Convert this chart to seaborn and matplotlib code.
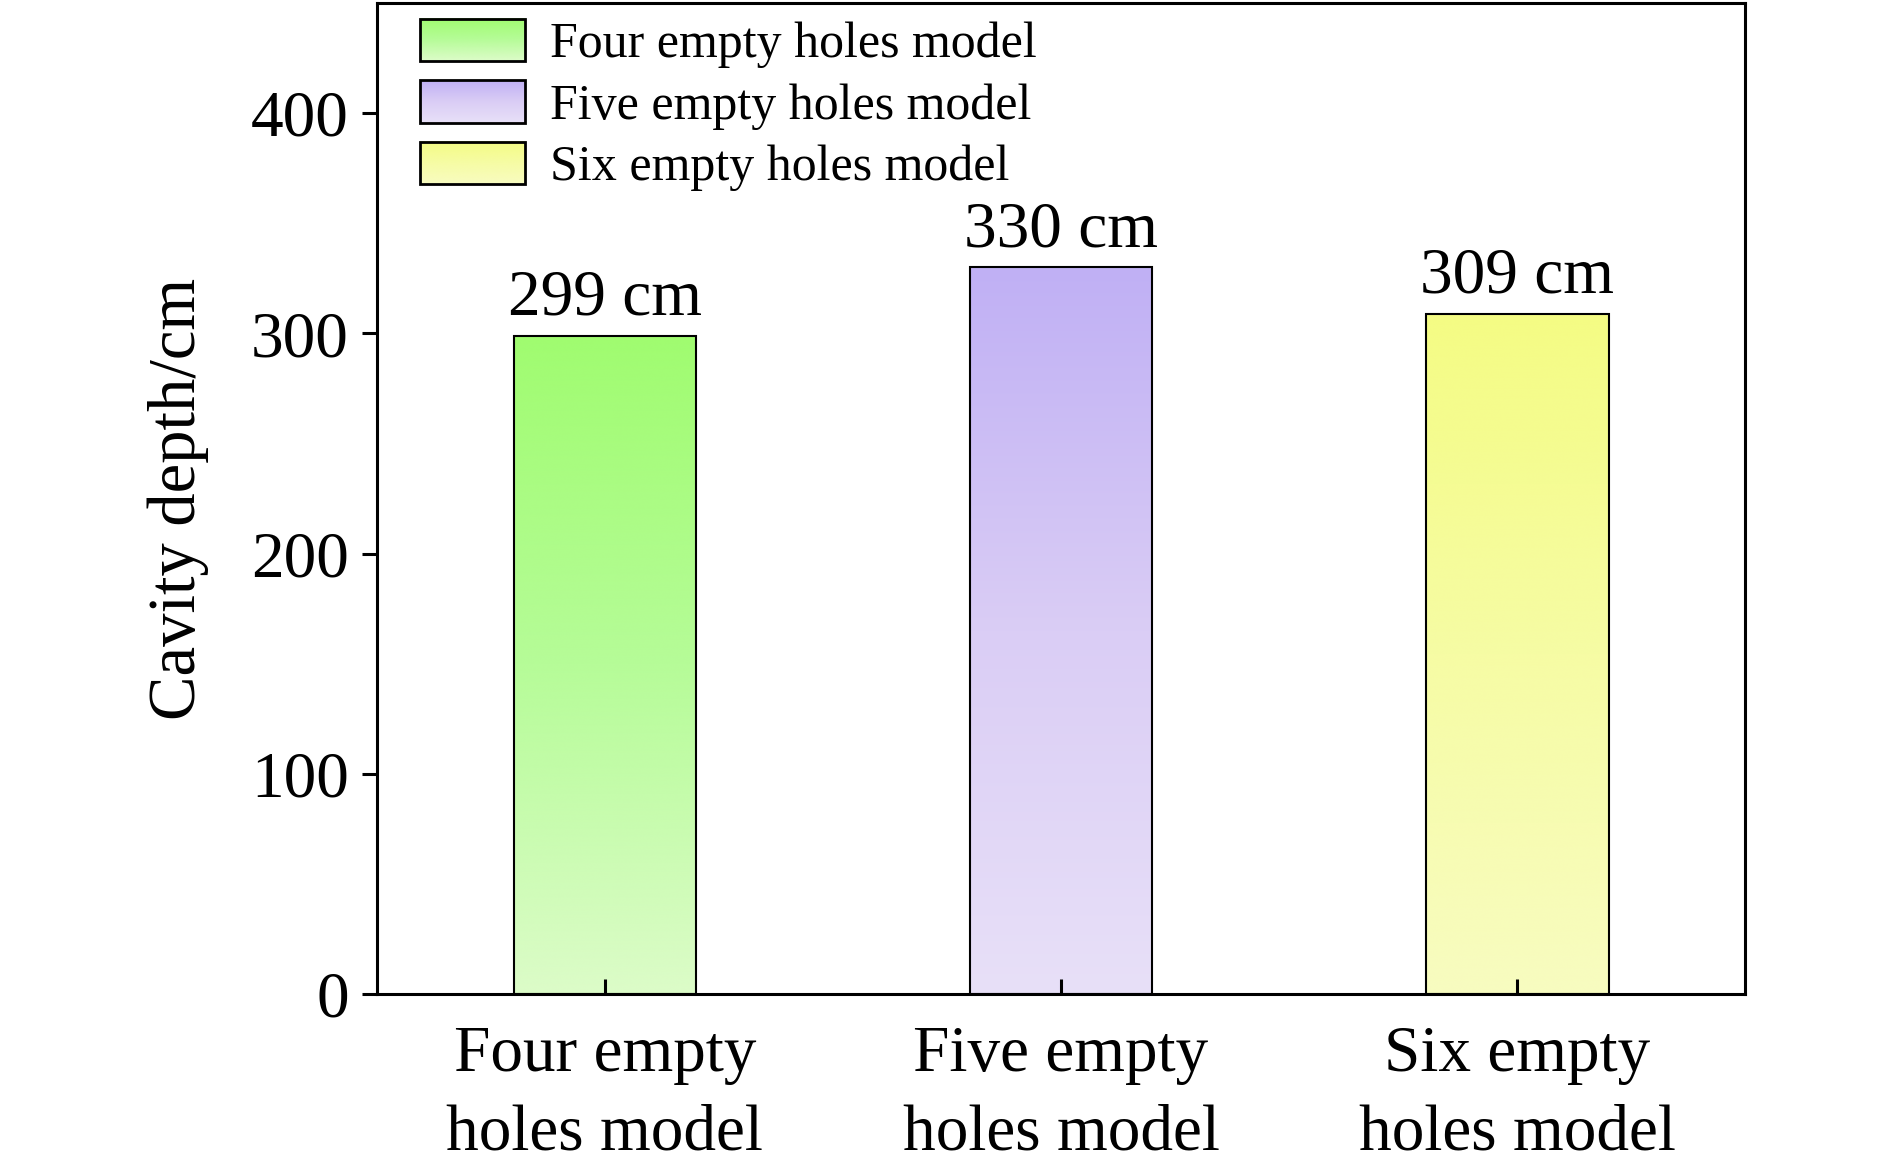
import numpy as np
import pandas as pd
import seaborn as sns
import matplotlib.pyplot as plt
from matplotlib.colors import LinearSegmentedColormap
from matplotlib.legend_handler import HandlerBase
from matplotlib.image import BboxImage
from matplotlib.transforms import Bbox, TransformedBbox
from matplotlib.patches import Rectangle

# data
models = ["Four empty holes model", "Five empty holes model", "Six empty holes model"]
tick_labels = ["Four empty\nholes model", "Five empty\nholes model", "Six empty\nholes model"]
depths = [299, 330, 309]
bar_labels = ["299 cm", "330 cm", "309 cm"]

# gradient stops for each bar: bottom, middle, top
grad_colors = {
    "Four empty holes model": ["#dcfcc8", "#b6fc98", "#a0fc70"],
    "Five empty holes model": ["#e8e0f8", "#dacdf5", "#c0b0f4"],
    "Six empty holes model": ["#f8fcc0", "#f6fca4", "#f4fc84"],
}

sns.set_style("ticks")
plt.rcParams["font.family"] = ["Liberation Serif", "DejaVu Serif"]
plt.rcParams["text.color"] = "black"
plt.rcParams["axes.labelcolor"] = "black"
plt.rcParams["xtick.color"] = "black"
plt.rcParams["ytick.color"] = "black"


class GradientHandler(HandlerBase):
    def __init__(self, colors):
        super().__init__()
        self.cmap = LinearSegmentedColormap.from_list("g", colors)

    def create_artists(self, legend, orig_handle, xdescent, ydescent,
                       width, height, fontsize, trans):
        bb = TransformedBbox(Bbox.from_bounds(-xdescent, -ydescent, width, height), trans)
        img = BboxImage(bb, cmap=self.cmap, interpolation="bicubic", origin="lower")
        img.set_data(np.linspace(0, 1, 64).reshape(-1, 1))
        rect = Rectangle((-xdescent, -ydescent), width, height, facecolor="none",
                         edgecolor="black", linewidth=2.0, transform=trans)
        return [img, rect]


fig = plt.figure(figsize=(18.9, 11.7), dpi=100)
ax = fig.add_axes([0.1993, 0.1505, 0.7242, 0.8468])

df = pd.DataFrame({"model": models, "depth": depths})
sns.barplot(data=df, x="model", y="depth", hue="model",
            palette=[grad_colors[m][2] for m in models], width=0.4,
            edgecolor="black", linewidth=1.5, legend=False, ax=ax)

# replace flat fill with a vertical gradient
grad = np.linspace(0, 1, 256).reshape(-1, 1)
for patch, model in zip(ax.patches, models):
    x0, y0 = patch.get_x(), patch.get_y()
    w, h = patch.get_width(), patch.get_height()
    cmap = LinearSegmentedColormap.from_list(model, grad_colors[model])
    ax.imshow(grad, cmap=cmap, extent=[x0, x0 + w, y0, y0 + h], origin="lower",
              aspect="auto", zorder=0.5, interpolation="bicubic")
    patch.set_facecolor("none")
    patch.set_zorder(1)

for cont, lab in zip(ax.containers, bar_labels):
    ax.bar_label(cont, labels=[lab], padding=5, fontsize=47)

ax.set_xlim(-0.5, 2.5)
ax.set_ylim(0, 450)
ax.set_yticks([0, 100, 200, 300, 400])
ax.set_xticks(range(len(models)))
ax.set_xticklabels(tick_labels, linespacing=1.4)
ax.tick_params(axis="y", direction="out", length=11, width=2.2, pad=9, labelsize=47)
ax.tick_params(axis="x", direction="in", length=11, width=2.2, pad=23, labelsize=47)
for sp in ax.spines.values():
    sp.set_visible(True)
    sp.set_linewidth(2.2)
    sp.set_color("black")

ax.set_xlabel("")
ax.set_ylabel("Cavity depth/cm", fontsize=48, labelpad=30)

handles = [Rectangle((0, 0), 1, 1) for m in models]
hmap = {h: GradientHandler(grad_colors[m]) for h, m in zip(handles, models)}
ax.legend(handles, models, handler_map=hmap, loc="upper left",
          bbox_to_anchor=(0.032, 0.984), frameon=False, fontsize=36,
          handlelength=2.1, handleheight=0.93, handletextpad=0.5,
          labelspacing=0.24, borderpad=0, borderaxespad=0)

fig.savefig("out.png", dpi=100)
